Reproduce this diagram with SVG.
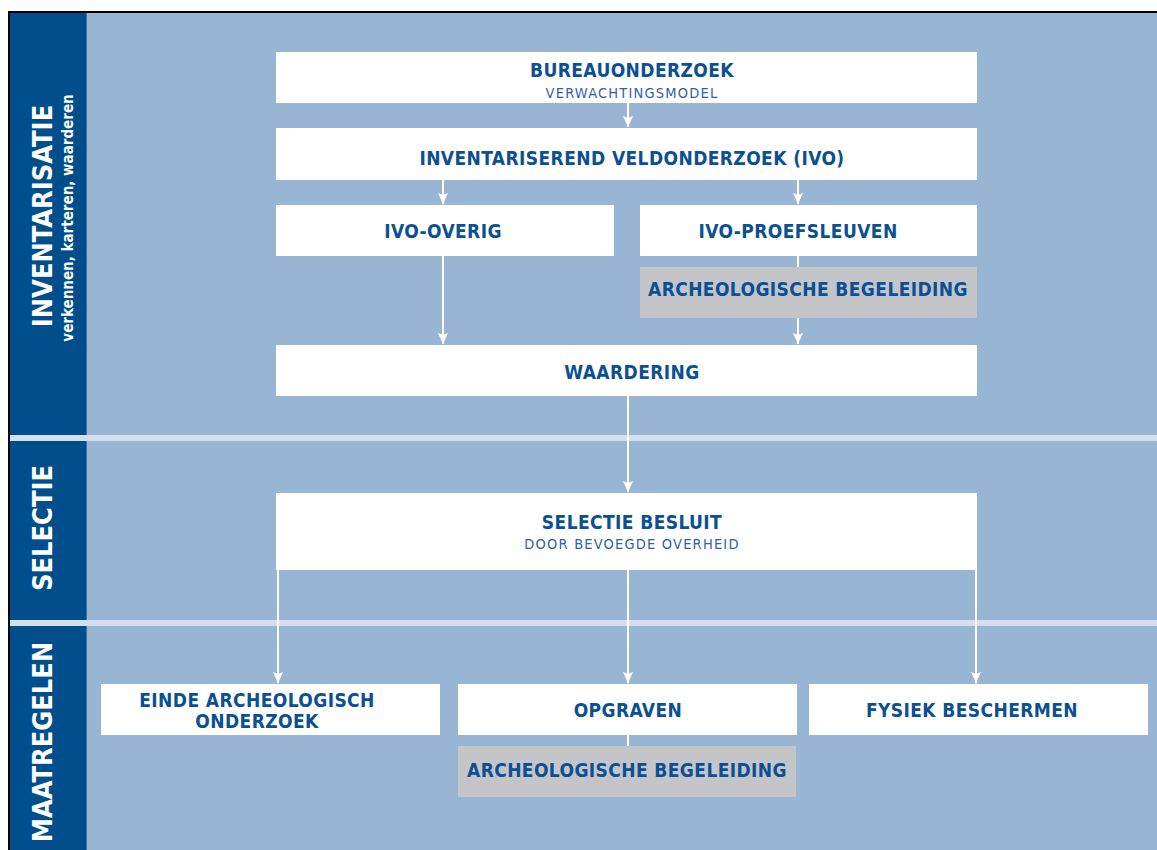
<svg xmlns="http://www.w3.org/2000/svg" width="1157" height="850" viewBox="0 0 1157 850">
<defs>
<style>
.box{fill:#ffffff}
.gray{fill:#c4c5c8}
.t{font-family:"DejaVu Sans Condensed","DejaVu Sans",sans-serif;font-stretch:condensed;font-weight:bold;font-size:19px;fill:#0b4f95;text-anchor:middle;letter-spacing:0.4px}
.s{font-family:"DejaVu Sans Condensed","DejaVu Sans",sans-serif;font-stretch:condensed;font-weight:normal;font-size:14.5px;fill:#2f62a3;text-anchor:middle;letter-spacing:1.2px}
.side{font-family:"DejaVu Sans Condensed","DejaVu Sans",sans-serif;font-stretch:condensed;font-weight:bold;font-size:27px;fill:#ffffff;text-anchor:middle}
.sub{font-family:"DejaVu Sans Condensed","DejaVu Sans",sans-serif;font-stretch:condensed;font-weight:bold;font-size:15px;fill:#ffffff;text-anchor:middle}
.c{stroke:#ffffff;stroke-width:2;fill:none}
</style>
<marker id="ah" markerUnits="userSpaceOnUse" markerWidth="11" markerHeight="10" refX="11" refY="5" orient="auto">
<path d="M0,0 L11,5 L0,10 L2,5 z" fill="#ffffff"/>
</marker>
</defs>
<rect x="0" y="0" width="1157" height="850" fill="#ffffff"/>
<g id="frame">
<rect x="8" y="11" width="1149" height="839" fill="#000000"/>
<rect x="10" y="13" width="1147" height="837" fill="#98b5d3"/>
<rect x="10" y="13" width="76" height="837" fill="#004f8c"/>
<rect x="86" y="13" width="1" height="837" fill="#3f74ab"/>
<rect x="10" y="435" width="1147" height="6" fill="#d5deec"/>
<rect x="10" y="620" width="1147" height="6" fill="#d5deec"/>
</g>
<g id="phase-inventarisatie">
<text class="side" transform="translate(52,216) rotate(-90)">INVENTARISATIE</text>
<text class="sub" transform="translate(73,218) rotate(-90)">verkennen, karteren, waarderen</text>
</g>
<g id="phase-selectie">
<text class="side" transform="translate(52,528) rotate(-90)">SELECTIE</text>
</g>
<g id="phase-maatregelen">
<text class="side" transform="translate(52,742) rotate(-90)">MAATREGELEN</text>
</g>
<g id="connectors">
<path class="c" d="M628,103 V127" marker-end="url(#ah)"/>
<path class="c" d="M443,180 V204" marker-end="url(#ah)"/>
<path class="c" d="M798,180 V204" marker-end="url(#ah)"/>
<path class="c" d="M798,256 V267"/>
<path class="c" d="M443,256 V344" marker-end="url(#ah)"/>
<path class="c" d="M798,318 V344" marker-end="url(#ah)"/>
<path class="c" d="M628,396 V492" marker-end="url(#ah)"/>
<path class="c" d="M278,569 V683" marker-end="url(#ah)"/>
<path class="c" d="M628,569 V683" marker-end="url(#ah)"/>
<path class="c" d="M976,569 V683" marker-end="url(#ah)"/>
<path class="c" d="M628,735 V746"/>
</g>
<g id="bureauonderzoek">
<rect class="box" x="276" y="52" width="701" height="51"/>
<text class="t" x="632" y="77">BUREAUONDERZOEK</text>
<text class="s" x="632" y="98">VERWACHTINGSMODEL</text>
</g>
<g id="ivo">
<rect class="box" x="276" y="128" width="701" height="52"/>
<text class="t" x="632" y="165">INVENTARISEREND VELDONDERZOEK (IVO)</text>
</g>
<g id="ivo-overig">
<rect class="box" x="276" y="205" width="338" height="51"/>
<text class="t" x="443" y="238">IVO-OVERIG</text>
</g>
<g id="ivo-proefsleuven">
<rect class="box" x="640" y="205" width="337" height="51"/>
<text class="t" x="798" y="238">IVO-PROEFSLEUVEN</text>
</g>
<g id="begeleiding-1">
<rect class="gray" x="640" y="267" width="337" height="51"/>
<text class="t" x="808" y="296">ARCHEOLOGISCHE BEGELEIDING</text>
</g>
<g id="waardering">
<rect class="box" x="276" y="345" width="701" height="51"/>
<text class="t" x="632" y="379">WAARDERING</text>
</g>
<g id="selectie-besluit">
<rect class="box" x="276" y="493" width="701" height="77"/>
<text class="t" x="632" y="529">SELECTIE BESLUIT</text>
<text class="s" x="632" y="549">DOOR BEVOEGDE OVERHEID</text>
</g>
<g id="einde">
<rect class="box" x="101" y="684" width="339" height="51"/>
<text class="t" x="257" y="707">EINDE ARCHEOLOGISCH</text>
<text class="t" x="257" y="728">ONDERZOEK</text>
</g>
<g id="opgraven">
<rect class="box" x="458" y="684" width="339" height="51"/>
<text class="t" x="628" y="717">OPGRAVEN</text>
</g>
<g id="fysiek">
<rect class="box" x="809" y="684" width="339" height="51"/>
<text class="t" x="972" y="717">FYSIEK BESCHERMEN</text>
</g>
<g id="begeleiding-2">
<rect class="gray" x="458" y="746" width="338" height="51"/>
<text class="t" x="627" y="777">ARCHEOLOGISCHE BEGELEIDING</text>
</g>
</svg>
